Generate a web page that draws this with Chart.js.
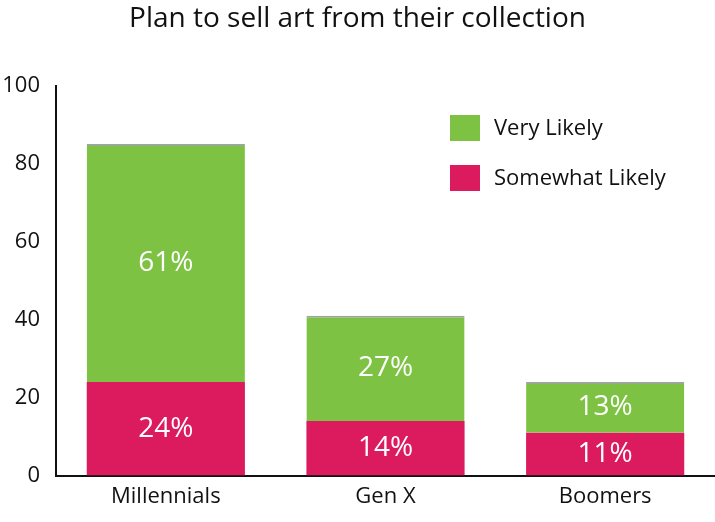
<!DOCTYPE html><html><head><script src="https://cdn.jsdelivr.net/npm/chart.js@4"></script>
<style>body{margin:0;background:#fff}#w{width:715px;height:522px}</style></head><body><div id="w"><canvas id="c"></canvas></div>
<script>
const categories=["Millennials","Gen X","Boomers"];
const somewhat=[24,14,11];
const very=[61,27,13];
const seriesNames=["Very Likely","Somewhat Likely"];
const colors={very:"#7dc242",some:"#dc1a5e"};
const F="'Open Sans', Lato, sans-serif";
const labelsPlugin={id:"lbl",afterDatasetsDraw(ch){const c=ch.ctx;c.save();c.fillStyle="#fff";c.font="28px "+F;c.textAlign="center";c.textBaseline="middle";
ch.data.datasets.forEach((d,i)=>{ch.getDatasetMeta(i).data.forEach((b,j)=>{c.fillText(d.data[j]+"%",b.x,(b.y+b.base)/2);});});c.restore();}};
const legendPlugin={id:"lg",afterDraw(ch){const c=ch.ctx;c.save();c.font="22px "+F;c.textBaseline="middle";c.fillStyle="#111";
const items=[[seriesNames[0],colors.very],[seriesNames[1],colors.some]];
items.forEach((it,i)=>{const y=115+i*50;c.fillStyle=it[1];c.fillRect(450,y,30,26);c.fillStyle="#111";c.fillText(it[0],494,y+14);});c.restore();}};
new Chart(document.getElementById("c"),{type:"bar",
data:{labels:categories,datasets:[
{label:seriesNames[1],data:somewhat,backgroundColor:colors.some},
{label:seriesNames[0],data:very,backgroundColor:colors.very,borderColor:"#9aa89a",borderWidth:{top:2,left:0,right:0,bottom:0},borderSkipped:false}]},
plugins:[labelsPlugin,legendPlugin],
options:{responsive:true,maintainAspectRatio:false,animation:false,
layout:{padding:{left:0,right:0,top:0,bottom:4}},
plugins:{legend:{display:false},tooltip:{enabled:false},
title:{display:true,text:"Plan to sell art from their collection",color:"#111",font:{family:F,size:28,weight:"normal"},padding:{top:2,bottom:50}}},
scales:{x:{stacked:true,barPercentage:0.73,categoryPercentage:1,grid:{display:false,drawTicks:false},border:{color:"#111",width:2},ticks:{color:"#111",font:{family:F,size:22},padding:8}},
y:{stacked:true,min:0,max:100,ticks:{stepSize:20,color:"#111",font:{family:F,size:22},padding:6},grid:{display:false,drawOnChartArea:false,drawTicks:true,tickLength:10,color:"#111",tickWidth:2},border:{color:"#111",width:2},afterFit(s){s.width=56;}}}}});
</script></body></html>
